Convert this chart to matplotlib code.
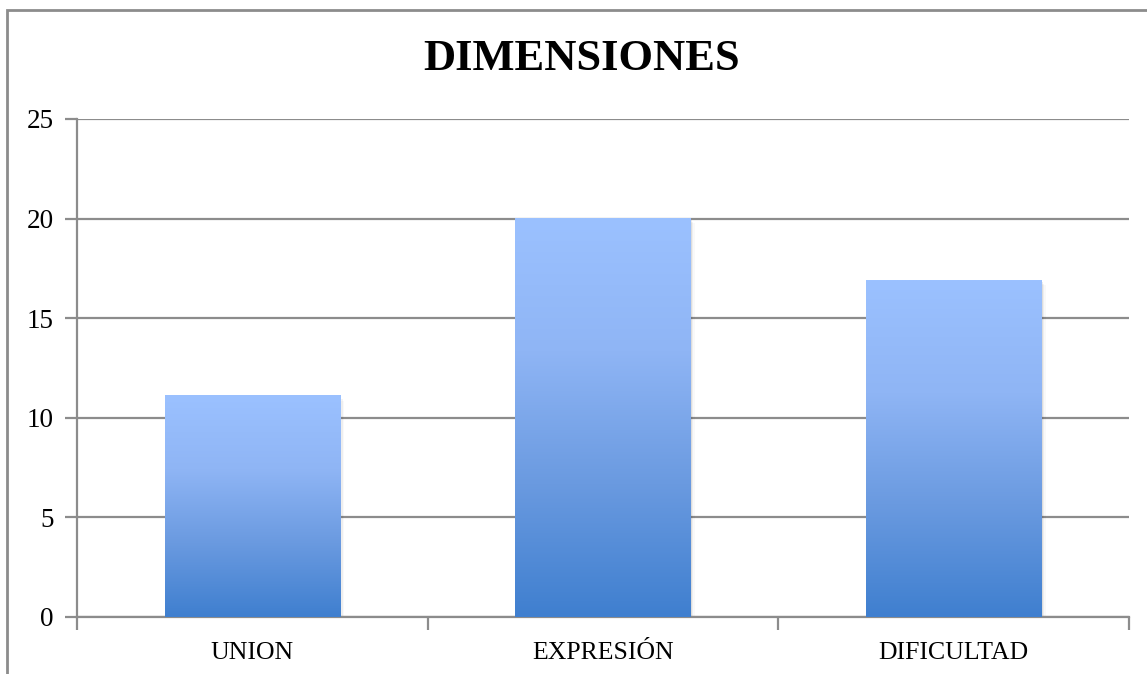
import numpy as np
import matplotlib
matplotlib.use('Agg')
from matplotlib import pyplot as plt
from matplotlib.colors import LinearSegmentedColormap
from matplotlib.patches import Rectangle

plt.rcParams['font.family'] = ['Liberation Serif', 'DejaVu Serif']

# datos
categorias = ['UNION', 'EXPRESIÓN', 'DIFICULTAD']
valores = [11.1, 20, 16.9]
ticks_y = [0, 5, 10, 15, 20, 25]
titulo = 'DIMENSIONES'

gris = '#8c8c8c'
degradado = LinearSegmentedColormap.from_list('barra', ['#3f7fcf', '#6a9ae0', '#8fb5f5', '#9bc1ff'])

fig = plt.figure(figsize=(11.47, 6.74), dpi=100)
ax = fig.add_axes([77 / 1147, 57 / 674, 1052 / 1147, 498 / 674])

# marco exterior (cortado a la derecha y abajo)
fig.patches.append(Rectangle((7 / 1147, -0.05), 1.2, 1 - 10 / 674 + 0.05, transform=fig.transFigure,
                             fill=False, edgecolor=gris, linewidth=2))

x = np.arange(len(categorias))
ancho = 0.5
barras = ax.bar(x, valores, width=ancho, color='none', zorder=3)

grad = np.linspace(0, 1, 256).reshape(-1, 1)
for b, v in zip(barras, valores):
    x0 = b.get_x()
    # sombra suave
    for k, a in enumerate([0.07, 0.045, 0.025]):
        ax.add_patch(Rectangle((x0 + 0.004 * (k + 1), -0.08 * (k + 1)), ancho, v, facecolor='black',
                               alpha=a, edgecolor='none', zorder=2))
    ax.imshow(grad, cmap=degradado, aspect='auto', origin='lower',
              extent=(x0, x0 + ancho, 0, v), zorder=3)

ax.set_xlim(-0.5, len(categorias) - 0.5)
ax.set_ylim(0, 25)
ax.set_yticks(ticks_y)
ax.yaxis.grid(True, color=gris, linewidth=1.6, zorder=1)
ax.set_axisbelow(True)

ax.set_xticks(x)
ax.set_xticklabels(categorias, fontsize=18.5)
ax.set_xticks(np.arange(-0.5, len(categorias)), minor=True)
ax.tick_params(axis='x', which='major', length=0, pad=18)
ax.tick_params(axis='x', which='minor', length=9, width=1.6, color=gris, direction='out')
ax.tick_params(axis='y', length=9, width=1.6, color=gris, labelsize=19.5, pad=8)

for s in ['top', 'right']:
    ax.spines[s].set_visible(False)
ax.spines['left'].set_color(gris)
ax.spines['left'].set_linewidth(1.6)
ax.spines['bottom'].set_color(gris)
ax.spines['bottom'].set_linewidth(1.6)

fig.text(582 / 1147, 1 - 59 / 674, titulo, ha='center', va='center',
         fontsize=32, fontweight='bold')

fig.savefig('out.png', dpi=100)
